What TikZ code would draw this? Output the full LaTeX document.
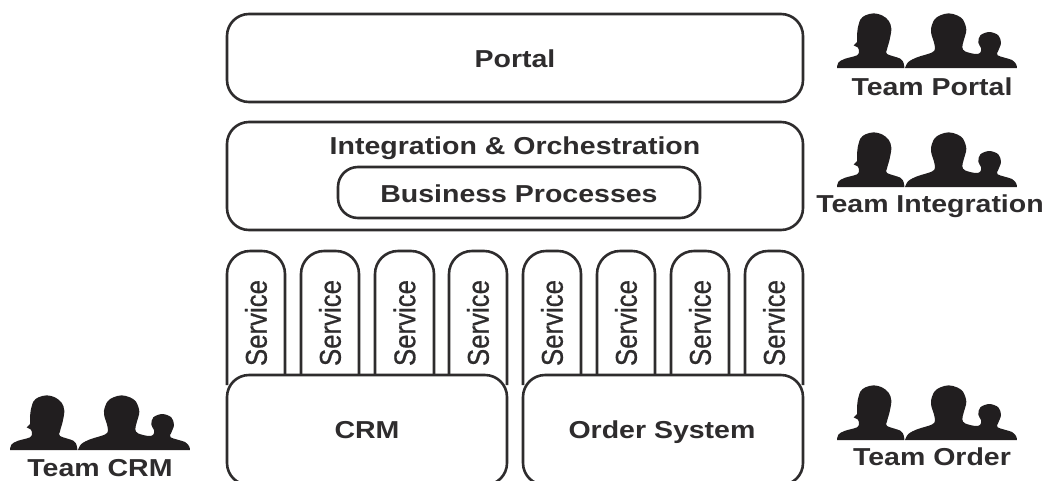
\documentclass[tikz,border=0pt]{standalone}
\usepackage{fontspec}
\setmainfont{Liberation Sans}
\newfontfamily\svcfont[FakeBold=0.7]{Liberation Sans}
\definecolor{ink}{HTML}{2E2C2D}
\definecolor{iconink}{HTML}{211E1F}
\tikzset{
  x=1pt,y=-1pt,
  lbl/.style={text=ink,font=\fontsize{28.5}{32}\selectfont\bfseries,inner sep=0pt,yscale=.86,transform shape},
  svc/.style={text=ink,font=\svcfont\fontsize{30}{34}\selectfont,inner sep=0pt,yscale=.86,rotate=90,transform shape},
  box/.style={draw=ink,line width=2.6pt,fill=white,rounded corners=22pt,outer sep=0pt},
  tab/.style={draw=ink,line width=2.6pt,fill=white,rounded corners=23pt},
  teamicon/.pic={
    \fill[iconink,x=.3333pt,y=.3333pt]
      plot[smooth,tension=.55] coordinates {(0,0)(4,16)(22,27)(60,38)(66,50)(62,62)(50,68)(60,78)(60,100)(62,118)(70,145)(85,158)(110,164)(135,158)(155,142)(163,118)(158,85)(150,56)(150,42)(190,28)(200,14)(202,0)} -- cycle
      plot[smooth,tension=.55] coordinates {(204,0)(214,18)(240,32)(284,46)(294,58)(290,80)(284,98)(282,118)(292,145)(310,158)(335,164)(360,158)(378,145)(388,115)(380,82)(376,62)(384,50)(415,42)(430,46)(432,60)(424,76)(430,98)(457,108)(484,98)(492,75)(484,52)(482,38)(525,24)(538,10)(540,0)} -- cycle;
  }
}
\begin{document}
\begin{tikzpicture}
\useasboundingbox (0,0) rectangle (1054,480);
\clip (0,0) rectangle (1054,480);
\fill[white] (0,0) rectangle (1054,480);
% top boxes
\node[box,minimum width=576pt,minimum height=88pt,anchor=north west] (portal) at (227,14) {};
\node[lbl] (portaltxt) at (515,59) {Portal};
\node[box,minimum width=576pt,minimum height=108pt,anchor=north west] (integ) at (227,122) {};
\node[lbl] (integtxt) at (515,148) {Integration \& Orchestration};
\node[box,rounded corners=20pt,minimum width=362pt,minimum height=51pt,anchor=north west] (bp) at (338,167) {};
\node[lbl] (bptxt) at (519,194) {Business Processes};
% service tabs
\foreach \xa/\xb [count=\i] in {227/285,301/359,375/434,449/507,523/581,597/655,671/729,745/803}{
  \path[tab] (\xa,385) -- (\xa,251) -- (\xb,251) -- (\xb,385);
  \node[svc] (svc\i) at ({(\xa+\xb)/2},323) {Service};
}
% systems
\node[box,minimum width=280pt,minimum height=110pt,anchor=north west] (crm) at (227,375) {};
\node[lbl] (crmtxt) at (367,430) {CRM};
\node[box,minimum width=280pt,minimum height=110pt,anchor=north west] (order) at (523,375) {};
\node[lbl] (ordertxt) at (662,432) {Order System};
% teams
\pic at (837,68) {teamicon};
\node[lbl] (t1) at (932,87) {Team Portal};
\pic at (837,187) {teamicon};
\node[lbl] (t2) at (930,206) {Team Integration};
\pic at (837,440) {teamicon};
\node[lbl] (t3) at (932,457) {Team Order};
\pic at (10,450) {teamicon};
\node[lbl] (t4) at (100,468) {Team CRM};
\end{tikzpicture}
\end{document}
